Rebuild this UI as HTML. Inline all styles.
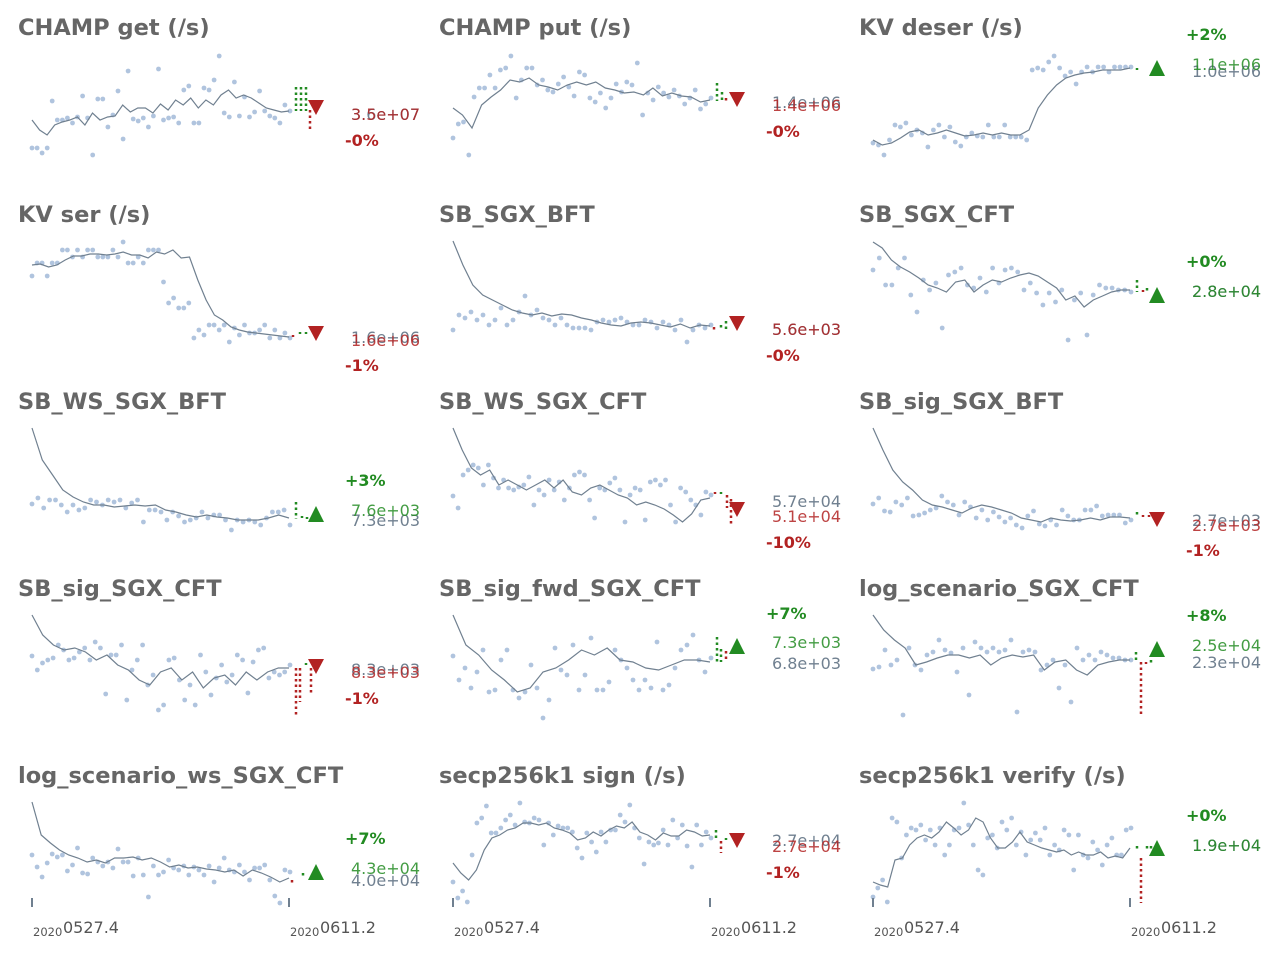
<!DOCTYPE html>
<html><head><meta charset="utf-8">
<style>
html,body{margin:0;padding:0;background:#fff;}
svg{display:block;}
</style></head>
<body>
<svg id="chart" width="1280" height="960" viewBox="0 0 1280 960" xmlns="http://www.w3.org/2000/svg"></svg>
<script>
// ---- data (heights in plot units, 0 = panel baseline) ----
const titles = ["CHAMP get (/s)","CHAMP put (/s)","KV deser (/s)","KV ser (/s)","SB_SGX_BFT","SB_SGX_CFT","SB_WS_SGX_BFT","SB_WS_SGX_CFT","SB_sig_SGX_BFT","SB_sig_SGX_CFT","SB_sig_fwd_SGX_CFT","log_scenario_SGX_CFT","log_scenario_ws_SGX_CFT","secp256k1 sign (/s)","secp256k1 verify (/s)"];
const pts1 = [22,22,17,22,69,50,50,52,47,53,74,52,15,71,71,43,55,79,31,99,51,49,52,43,54,101,50,52,53,47,80,84,47,47,82,80,90,114,57,53,88,54,73,53,58,79,59,54,52,47,65,59];
const line1 = [50,40,35,45,48,50,53,45,57,50,53,54,65,58,62,62,57,66,60,70,65,72,62,70,65,75,80,72,75,72,67,62,60,58,59];
const pts2 = [32,46,48,15,73,82,82,95,82,100,102,114,72,90,102,102,85,90,80,78,86,93,83,74,98,95,72,68,77,62,72,86,78,88,85,107,55,77,70,83,77,73,80,74,66,72,80,61,66,72];
const line2 = [62,55,42,65,73,80,90,88,92,85,83,80,85,88,85,88,82,80,77,78,75,82,74,77,74,73,68,70];
const pts3 = [27,25,15,30,45,43,47,35,40,37,23,40,45,33,43,28,24,33,37,34,33,45,33,33,45,33,33,33,30,100,102,100,108,114,102,94,98,86,98,103,98,103,103,98,103,103,103,103];
const line3 = [30,25,27,32,38,40,35,37,40,37,34,35,37,35,37,35,35,40,62,75,85,92,95,97,98,100,100,100,102];
const pts4 = [81,94,94,81,94,94,107,107,100,107,100,107,107,100,100,100,107,100,115,94,94,100,94,107,107,107,75,54,59,49,49,54,19,27,22,32,32,27,32,15,29,22,32,24,24,27,32,19,27,19,24,19];
const line4 = [92,93,90,92,97,101,101,103,103,102,103,105,102,102,99,105,103,107,99,100,77,57,42,37,30,27,25,24,23,22,21,20];
const pts5 = [27,42,39,45,37,42,32,37,49,32,37,45,61,42,47,39,37,32,39,32,29,29,29,27,35,37,35,37,39,35,32,32,37,35,29,35,32,27,37,15,27,32,29,32];
const line5 = [116,92,72,62,57,52,47,44,42,44,41,43,42,39,37,34,32,31,34,35,34,32,30,33,29,32,31];
const pts6 = [87,99,72,72,89,99,62,45,77,67,74,29,82,85,89,72,69,79,65,89,74,87,89,85,67,74,64,52,64,55,67,17,57,64,22,62,72,69,69,67,67,65];
const line6 = [115,109,97,90,85,79,72,69,65,75,77,65,72,77,75,79,82,84,81,75,69,57,61,50,57,61,65,67,67];
const pts7 = [40,46,36,44,44,39,32,39,34,36,44,42,39,44,42,44,36,41,44,22,34,34,32,24,32,28,22,24,26,32,26,29,29,24,14,24,22,24,22,19,26,32,32,34,19];
const line7 = [116,84,69,54,47,42,39,39,37,38,39,38,39,34,32,29,27,29,27,26,24,24,24,26,29,26];
const pts8 = [48,36,69,74,79,76,59,79,66,56,64,56,54,57,59,67,39,54,49,64,54,62,44,56,69,72,69,44,26,56,54,61,66,54,22,49,56,54,24,62,64,59,64,39,22,56,52,44,39,29,52,49];
const line8 = [116,94,76,69,74,59,64,59,54,59,64,56,64,52,49,56,59,54,49,46,39,42,39,35,29,22,30,44,46];
const pts9 = [40,46,33,32,42,39,46,28,29,31,34,36,48,42,39,29,42,37,26,34,24,32,27,22,26,19,16,28,33,20,18,24,19,34,28,24,24,34,34,38,28,29,29,29,21,24];
const line9 = [116,94,74,62,54,44,39,37,34,31,36,39,37,34,31,26,24,22,26,24,23,24,26,24,27,27,26];
const pts10 = [75,61,68,71,73,86,81,71,73,79,83,71,89,83,37,76,76,86,31,61,71,86,46,56,21,26,71,73,51,31,46,26,76,59,36,53,66,49,56,76,71,38,69,81,83,53,59,56,59,66];
const line10 = [116,96,86,81,83,79,71,76,66,61,51,46,59,63,51,59,43,53,56,46,59,51,59,63,63];
const pts11 = [75,51,63,43,59,81,39,41,71,81,41,33,39,66,43,13,31,83,61,56,86,41,56,93,41,41,49,81,71,63,51,41,51,43,89,41,46,63,81,86,96,71,59,73];
const line11 = [116,86,76,61,51,39,43,59,63,71,81,76,83,71,69,63,61,66,71,71,69];
const pts12 = [62,64,81,66,71,16,83,66,61,76,79,91,81,78,59,83,36,89,83,79,83,79,81,91,19,79,81,79,61,66,71,43,66,29,83,71,76,71,79,76,73,73,71,71];
const line12 = [116,101,91,83,66,69,73,76,76,73,76,66,73,76,74,76,61,69,71,61,56,66,69,71,71];
const pts13 = [63,51,41,55,64,61,63,47,53,70,45,44,60,56,52,56,50,69,56,56,42,60,43,21,52,43,46,58,50,48,52,43,51,48,43,52,36,50,60,48,46,53,46,38,50,50,53,38,22,15,48,46];
const line13 = [116,83,75,68,63,60,56,58,55,60,60,61,58,60,56,51,53,50,51,49,48,46,48,42,48,45,41,36,40];
const pts14 = [36,20,27,16,63,95,100,112,85,85,90,98,103,93,115,96,95,100,98,73,95,83,92,90,90,86,70,60,85,76,66,86,76,88,88,103,96,113,90,80,54,76,73,75,88,73,98,80,93,72,51,93,73,86,80];
const line14 = [55,45,38,48,68,80,83,88,90,95,95,93,95,90,88,85,78,80,86,82,88,92,90,96,86,83,78,85,82,82,88,86,82,83];
const pts15 = [21,30,38,16,100,96,60,83,90,88,93,78,88,73,90,63,73,88,90,115,93,73,48,43,80,83,70,96,88,100,73,86,63,78,85,78,90,63,73,68,88,83,48,83,63,60,76,68,53,73,80,63,63,88,90];
const line15 = [36,33,31,58,60,73,80,83,80,86,96,90,83,88,100,96,80,70,70,76,86,76,73,70,68,66,68,63,66,63,63,66,60,62,60,70];
const allPts = [pts1,pts2,pts3,pts4,pts5,pts6,pts7,pts8,pts9,pts10,pts11,pts12,pts13,pts14,pts15];
const allLines = [line1,line2,line3,line4,line5,line6,line7,line8,line9,line10,line11,line12,line13,line14,line15];
const dirs = [-1,-1,1,-1,-1,1,1,-1,-1,-1,1,1,1,-1,1];
const markLevels = [63,71,102,24,34,62,30,35,25,65,85,82,46,78,70];
const pctLabels = ["-0%","-0%","+2%","-1%","-0%","+0%","+3%","-10%","-1%","-1%","+7%","+8%","+7%","-1%","+0%"];
const newLabels = ["3.5e+07","1.4e+06","1.1e+06","1.6e+06","5.6e+03","2.8e+04","7.6e+03","5.1e+04","2.7e+03","8.3e+03","7.3e+03","2.5e+04","4.3e+04","2.7e+04","1.9e+04"];
const oldLabels = ["3.6e+07","1.4e+06","1.0e+06","1.6e+06","5.6e+03","2.8e+04","7.3e+03","5.7e+04","2.7e+03","8.3e+03","6.8e+03","2.3e+04","4.0e+04","2.7e+04","1.9e+04"];
const xTickLabels = [["2020","0527.4"],["2020","0611.2"]];

const colX = [0,421,841], rowTop = [0,187,374,561,748];
const layout = [
 {pct:140,nw:114,ol:114,dots:[[296,87,110,'g'],[301,87,110,'g'],[306,87,110,'g'],[310,110,128,'r']]},
 {pct:131,nw:105,ol:102,dots:[[296,83,100,'g'],[301,92,100,'g'],[305,98,100,'r']]},
 {pct:34,nw:64,ol:71,dots:[[296,68,69,'g']]},
 {pct:178,nw:153,ol:150,dots:[[293,148,149,'r'],[300,145,146,'g'],[306,145,146,'g']]},
 {pct:168,nw:142,ol:142,dots:[[293,140,142,'r'],[300,138,141,'g'],[305,134,141,'g']]},
 {pct:74,nw:104,ol:104,dots:[[296,93,104,'g'],[302,103,104,'r'],[306,101,104,'g']]},
 {pct:106,nw:136,ol:146,dots:[[296,128,144,'g'],[302,142,143,'g'],[307,143,144,'g']]},
 {pct:168,nw:142,ol:127,dots:[[294,118,119,'r'],[300,118,119,'g'],[306,121,133,'r'],[310,125,150,'r']]},
 {pct:176,nw:151,ol:146,dots:[[296,138,140,'g'],[302,141,142,'r'],[308,141,142,'r']]},
 {pct:137,nw:111,ol:108,dots:[[296,107,154,'r'],[300,107,140,'r'],[306,102,103,'g'],[311,107,131,'r']]},
 {pct:52,nw:81,ol:102,dots:[[296,76,100,'g'],[300,88,100,'g'],[305,90,100,'r']]},
 {pct:54,nw:84,ol:101,dots:[[295,91,101,'g'],[300,101,154,'r'],[305,101,102,'r'],[310,99,102,'g']]},
 {pct:90,nw:120,ol:132,dots:[[292,132,134,'r'],[303,125,129,'g']]},
 {pct:124,nw:98,ol:92,dots:[[295,82,92,'g'],[300,93,104,'r'],[305,90,91,'g']]},
 {pct:67,nw:97,ol:97,dots:[[296,98,100,'g'],[300,110,154,'r'],[306,98,100,'g'],[310,98,100,'g']]}
];
const GREEN='#228b22', RED='#b22222', GREY='#708090';
const svg = document.getElementById('chart');
const NS='http://www.w3.org/2000/svg';
function mk(tag, attrs, parent){const e=document.createElementNS(NS,tag);for(const k in attrs)e.setAttribute(k,attrs[k]);(parent||svg).appendChild(e);return e;}
function xScale(i,n,c){return colX[c]+32+i*(258/(n-1));}
function yScale(v,r){return rowTop[r]+170-v;}

for(let p=0;p<15;p++){
  const r=Math.floor(p/3), c=p%3, L=layout[p], ox=colX[c], oy=rowTop[r];
  const g=mk('g',{});
  
  
  const t=mk('text',{x:ox+18,y:oy+35,'font-family':'DejaVu Sans, Liberation Sans, sans-serif','font-weight':'bold','font-size':'22.5',fill:'#666'},g);
  t.textContent=titles[p];
  
  
  const pts=allPts[p];
  pts.forEach((v,i)=>{
    const d=mk('circle',{cx:xScale(i,pts.length,c).toFixed(1),cy:yScale(v,r),r:2.4,fill:'#b0c4de'},g);
    
    
  });
  const ln=allLines[p];
  const dstr=ln.map((v,i)=>(i?'L':'M')+(colX[c]+32+i*(257/(ln.length-1))).toFixed(1)+','+yScale(v,r)).join(' ');
  const pl=mk('path',{d:dstr,fill:'none',stroke:GREY,'stroke-width':1.2},g);
  
  
  L.dots.forEach(dd=>{
    const s=mk('line',{x1:ox+dd[0],x2:ox+dd[0],y1:oy+dd[1],y2:oy+dd[2]+1,stroke:dd[3]=='g'?GREEN:RED,'stroke-width':2.5,'stroke-dasharray':'2.5,3'},g);
    
    
  });
  const up=dirs[p]>0, col=up?GREEN:RED, my=yScale(markLevels[p],r), mx=ox+316;
  const tri=mk('path',{d:up?`M${mx-8},${my+8} L${mx+8},${my+8} L${mx},${my-8} Z`:`M${mx-8},${my-7} L${mx+8},${my-7} L${mx},${my+8} Z`,fill:col},g);
  
  
  const tOld=mk('text',{x:ox+420,y:oy+L.ol+6,'text-anchor':'end','font-family':'DejaVu Sans, Liberation Sans, sans-serif','font-size':'16',fill:GREY},g);
  tOld.textContent=oldLabels[p];
  
  
  const tNew=mk('text',{x:ox+420,y:oy+L.nw+6,'text-anchor':'end','font-family':'DejaVu Sans, Liberation Sans, sans-serif','font-size':'16',fill:col,'fill-opacity':0.85},g);
  tNew.textContent=newLabels[p];
  
  
  const tp=mk('text',{x:ox+345,y:oy+L.pct+6,'font-family':'DejaVu Sans, Liberation Sans, sans-serif','font-weight':'bold','font-size':'16',fill:col},g);
  tp.textContent=pctLabels[p];
  
  
  if(r===4){
    [32,289].forEach((tx,k)=>{
      const tk=mk('line',{x1:ox+tx,x2:ox+tx,y1:898,y2:907,stroke:GREY,'stroke-width':2},g);
      
      
      const a=mk('text',{x:ox+tx+1,y:936,'font-family':'DejaVu Sans, Liberation Sans, sans-serif','font-size':'11.5',fill:'#555'},g);
      a.textContent=xTickLabels[k][0];
      
      
      const b=mk('text',{x:ox+tx+31,y:933,'font-family':'DejaVu Sans, Liberation Sans, sans-serif','font-size':'16',fill:'#555'},g);
      b.textContent=xTickLabels[k][1];
      
      
    });
  }
}
</script>
</body></html>
